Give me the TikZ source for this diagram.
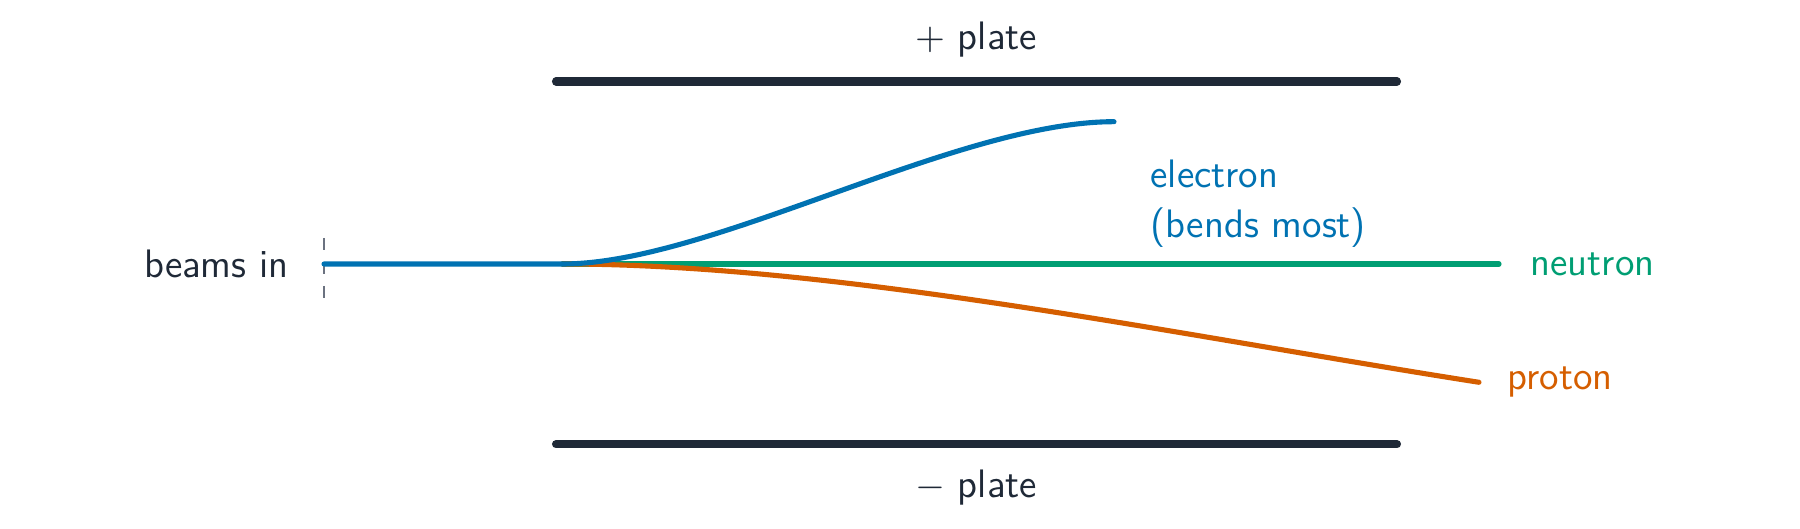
\documentclass[tikz,border=0pt]{standalone}
\usepackage{amsmath}
\usepackage{tikz}
\usetikzlibrary{positioning}
\definecolor{plategray}{HTML}{1F2937}
\definecolor{guidegray}{HTML}{6B7280}
\definecolor{ebeam}{HTML}{0072B2}
\definecolor{nbeam}{HTML}{009E73}
\definecolor{pbeam}{HTML}{D55E00}
\tikzset{plate/.style = {line width=2.3pt,line cap=round,draw=plategray},
         beam/.style = {line width=1.45pt,line cap=round},
         lbl/.style = {inner sep=0pt,font=\sffamily\fontsize{11.3}{14.4}\selectfont}}

\begin{document}
\begin{tikzpicture}
                    \useasboundingbox (0,0) rectangle (18,5.29);
                    \coordinate (PL1) at (5.56,4.475);
                    \coordinate (PR1) at (13.97,4.475);
                    \coordinate (PL2) at (5.56,0.847);
                    \coordinate (PR2) at (13.97,0.847);
                    \coordinate (In) at (3.24,2.65);
                    \coordinate (Split) at (5.625,2.65);
                    \coordinate (E) at (11.14,4.073);
                    \coordinate (N) at (14.99,2.65);
                    \coordinate (P) at (14.79,1.467);
                    \coordinate (G1) at (3.24,2.91);
                    \coordinate (G2) at (3.24,2.31);
                    \draw[plate] (PL1) -- (PR1);
                    \draw[plate] (PL2) -- (PR2);
                    \draw[guidegray,line width=0.5pt,dash pattern=on 3.5pt off 3.3pt] (G1) -- (G2);
                    \draw[beam,nbeam] (Split) -- (N);
                    \draw[beam,pbeam] (Split) .. controls (8.39,2.65) and (11.81,1.932) .. (P);
                    \draw[beam,ebeam] (In) -- (Split) .. controls (7.11,2.65) and (9.56,4.073) .. (E);
                    \node[lbl,text=plategray] (top) at (9.76,4.89) {$+$ plate};
                    \node[lbl,text=plategray] (bot) at (9.76,0.41) {$-$ plate};
                    \node[lbl,text=plategray,anchor=east] (in) at (2.893,2.65) {beams in};
                    \node[lbl,text=ebeam,anchor=west,align=left] (el) at (11.50,3.251) {electron\\(bends most)};
                    \node[lbl,text=nbeam,anchor=west] (ne) at (15.30,2.65) {neutron};
                    \node[lbl,text=pbeam,anchor=west] (pr) at (15.07,1.467) {proton};
                \end{tikzpicture}
\end{document}
